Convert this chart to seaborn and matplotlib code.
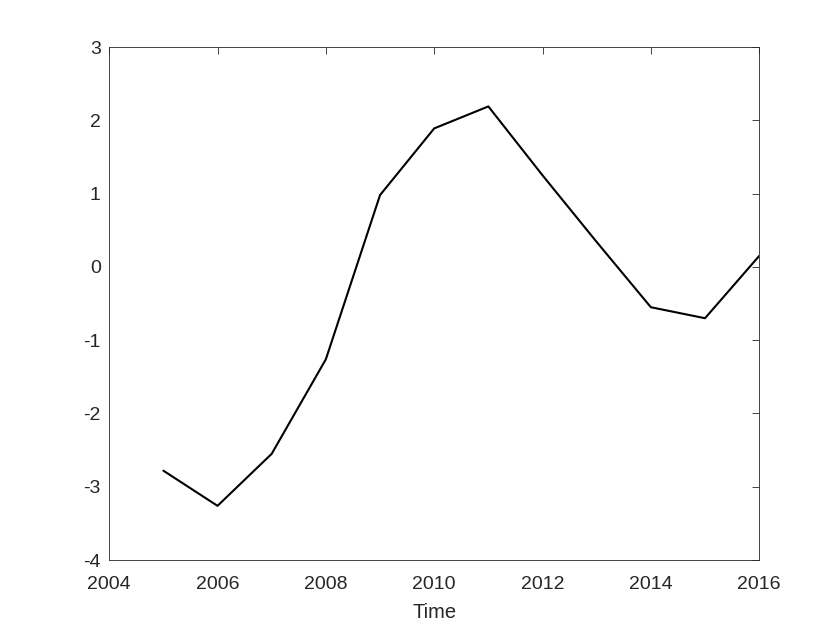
import matplotlib
matplotlib.use("Agg")
import matplotlib.pyplot as plt
import seaborn as sns
import pandas as pd

# values
years = [2005, 2006, 2007, 2008, 2009, 2010, 2011, 2012, 2013, 2014, 2015, 2016]
values = [-2.78, -3.26, -2.55, -1.26, 0.98, 1.89, 2.19, 1.25, 0.34, -0.55, -0.70, 0.15]

df = pd.DataFrame({"Time": years, "value": values})

sns.set_style("white")
plt.rcParams["font.family"] = ["Liberation Sans", "DejaVu Sans"]
plt.rcParams["axes.unicode_minus"] = False

fig = plt.figure(figsize=(8.4, 6.3), dpi=100)
ax = fig.add_axes([0.13, 0.111, 0.7738, 0.8143])
sns.lineplot(data=df, x="Time", y="value", color="black", linewidth=1.5, ax=ax)

ax.set_xlim(2004, 2016)
ax.set_ylim(-4, 3)
ax.set_xticks(range(2004, 2017, 2))
ax.set_yticks(range(-4, 4))
ax.set_xlabel("Time", fontsize=14.5, color="#262626", labelpad=7)
ax.set_ylabel("")
ax.tick_params(direction="in", length=5, width=0.6, labelsize=14,
               colors="#262626", top=True, right=True)
ax.tick_params(axis="x", pad=11.5)
ax.tick_params(axis="y", pad=6)
for s in ax.spines.values():
    s.set_visible(True)
    s.set_color("#262626")
    s.set_linewidth(0.6)

fig.savefig("out.png", dpi=100)
